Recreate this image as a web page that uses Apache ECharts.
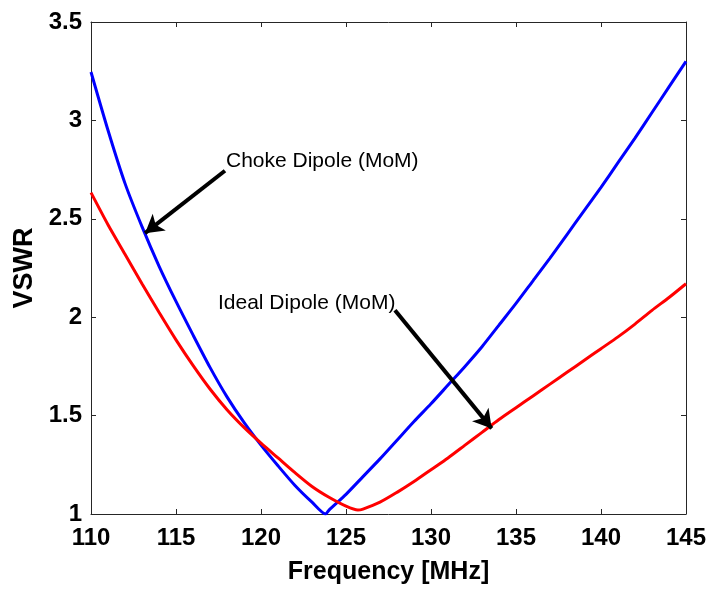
<!DOCTYPE html>
<html>
<head>
<meta charset="utf-8">
<script src="https://cdn.jsdelivr.net/npm/echarts@6/dist/echarts.min.js"></script>
<style>html,body{margin:0;padding:0;background:#fff}#c{width:712px;height:590px}</style>
</head>
<body>
<div id="c"></div>
<script>
// Choke Dipole (MoM) — blue
const chokeFreq = [110,111,112,113,114,115,116,117,118,119,120,121,122,123,123.8,124,125,126,127,128,129,130,131,132,133,134,135,136,137,138,139,140,141,142,143,144,145];
const chokeVswr = [3.246,2.95,2.68,2.46,2.26,2.08,1.91,1.745,1.595,1.465,1.35,1.245,1.145,1.06,1.0,1.02,1.10,1.19,1.28,1.375,1.47,1.56,1.655,1.75,1.85,1.96,2.07,2.185,2.30,2.42,2.54,2.66,2.785,2.91,3.04,3.17,3.30];
// Ideal Dipole (MoM) — red
const idealFreq = [110,111,112,113,114,115,116,117,118,119,120,121,122,123,124,125,125.7,126,127,128,129,130,131,132,133,134,135,136,137,138,139,140,141,142,143,144,145];
const idealVswr = [2.633,2.47,2.32,2.17,2.025,1.885,1.755,1.635,1.53,1.44,1.36,1.285,1.21,1.14,1.085,1.04,1.02,1.025,1.06,1.11,1.165,1.225,1.285,1.35,1.415,1.48,1.54,1.60,1.66,1.72,1.78,1.84,1.90,1.965,2.035,2.10,2.17];
// axis ticks
const xTicks = [110,115,120,125,130,135,140,145];
const yTicks = [1,1.5,2,2.5,3,3.5];
// annotation arrows: [tail, head] in data coordinates
const chokeArrow = [[117.88,2.744],[113.18,2.427]];
const idealArrow = [[127.88,2.035],[133.57,1.435]];
const chokeLabel = 'Choke Dipole (MoM)';
const idealLabel = 'Ideal Dipole (MoM)';

const zip = (a,b)=>a.map((v,i)=>[v,b[i]]);
const FONT = '"Liberation Sans", Arial, Helvetica, sans-serif';
const axisCol = '#262626';

const chart = echarts.init(document.getElementById('c'), null, {renderer:'canvas'});
const baseX = {type:'value', min:xTicks[0], max:xTicks[xTicks.length-1], interval:5,
  axisLine:{show:true,onZero:false,lineStyle:{color:axisCol,width:1}},
  axisTick:{show:true,inside:true,length:5,lineStyle:{color:axisCol}},
  splitLine:{show:false}};
const baseY = {type:'value', min:yTicks[0], max:yTicks[yTicks.length-1], interval:0.5,
  axisLine:{show:true,onZero:false,lineStyle:{color:axisCol,width:1}},
  axisTick:{show:true,inside:true,length:5,lineStyle:{color:axisCol}},
  splitLine:{show:false}};

function arrow(pts){
  return [{coord:pts[0], symbol:'none'},{coord:pts[1], symbol:'arrow', symbolSize:[16,18]}];
}

chart.setOption({
  animation:false,
  backgroundColor:'#fff',
  grid:{left:91, right:26, top:22, bottom:68},
  xAxis:[
    Object.assign({}, baseX, {position:'bottom',
      name:'Frequency [MHz]', nameLocation:'middle', nameGap:46,
      nameTextStyle:{fontFamily:FONT,fontWeight:'bold',fontSize:25,color:'#000'},
      axisLabel:{show:true,margin:12,fontFamily:FONT,fontWeight:'bold',fontSize:24,color:'#000',
        formatter:v=>String(v)}}),
    Object.assign({}, baseX, {position:'top', axisLabel:{show:false}})
  ],
  yAxis:[
    Object.assign({}, baseY, {position:'left',
      name:'VSWR', nameLocation:'middle', nameGap:53,
      nameTextStyle:{fontFamily:FONT,fontWeight:'bold',fontSize:27,color:'#000'},
      axisLabel:{show:true,margin:9,fontFamily:FONT,fontWeight:'bold',fontSize:24,color:'#000',
        formatter:v=>String(v)}}),
    Object.assign({}, baseY, {position:'right', axisLabel:{show:false}})
  ],
  series:[
    {type:'line', name:'Choke Dipole (MoM)', data:zip(chokeFreq,chokeVswr), showSymbol:false,
     smooth:0.25,
     lineStyle:{color:'#0000ff',width:3}, itemStyle:{color:'#0000ff'}, z:2},
    {type:'line', name:'Ideal Dipole (MoM)', data:zip(idealFreq,idealVswr), showSymbol:false,
     smooth:0.25,
     lineStyle:{color:'#ff0000',width:3}, itemStyle:{color:'#ff0000'}, z:3,
     markLine:{silent:true, animation:false, label:{show:false},
       lineStyle:{color:'#000',width:4,type:'solid'}, emphasis:{disabled:true},
       data:[arrow(chokeArrow), arrow(idealArrow)]}}
  ],
  graphic:[
    {type:'text', left:226, top:151, style:{text:chokeLabel, fontFamily:FONT, fontSize:21, fill:'#000'}},
    {type:'text', left:218, top:293, style:{text:idealLabel, fontFamily:FONT, fontSize:21, fill:'#000'}}
  ]
});
</script>
</body>
</html>
